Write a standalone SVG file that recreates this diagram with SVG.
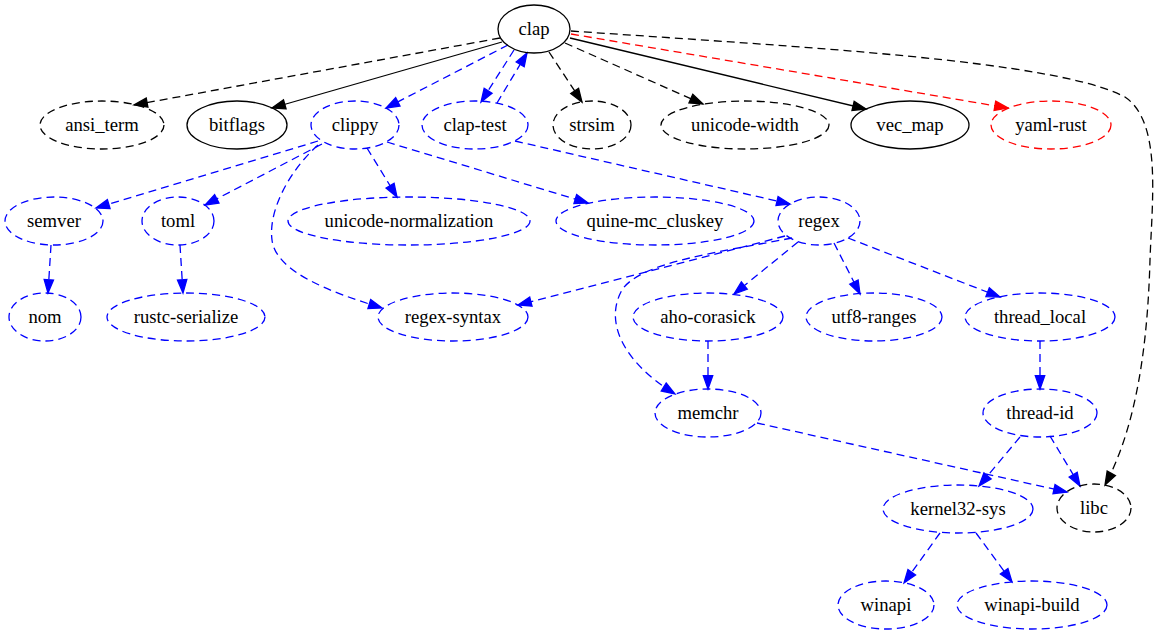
<svg xmlns="http://www.w3.org/2000/svg" width="1157" height="635" viewBox="0 0 1157 635">
<style>
.n ellipse{fill:none;stroke-width:1.3}
.n text{font-family:'Liberation Serif','Times New Roman',serif;font-size:18.67px;text-anchor:middle;fill:#000}
.k{stroke:#000}
.b{stroke:#0000ff}
.r{stroke:#ff0000}
.d{stroke-dasharray:8,5}
#edges path{fill:none;stroke-width:1.3}
#edges .k{marker-end:url(#ak)}
#edges .b{marker-end:url(#ab)}
#edges .r{marker-end:url(#ar)}
</style>
<defs>
<marker id="ak" markerUnits="userSpaceOnUse" viewBox="0 -6 14 12" markerWidth="14" markerHeight="12" refX="13.3" refY="0" orient="auto" overflow="visible"><path d="M0,-4.7 L13.3,0 L0,4.7 Z" fill="#000" stroke="#000" stroke-width="1.3"/></marker>
<marker id="ab" markerUnits="userSpaceOnUse" viewBox="0 -6 14 12" markerWidth="14" markerHeight="12" refX="13.3" refY="0" orient="auto" overflow="visible"><path d="M0,-4.7 L13.3,0 L0,4.7 Z" fill="#0000ff" stroke="#0000ff" stroke-width="1.3"/></marker>
<marker id="ar" markerUnits="userSpaceOnUse" viewBox="0 -6 14 12" markerWidth="14" markerHeight="12" refX="13.3" refY="0" orient="auto" overflow="visible"><path d="M0,-4.7 L13.3,0 L0,4.7 Z" fill="#ff0000" stroke="#ff0000" stroke-width="1.3"/></marker>
</defs>
<rect width="1157" height="635" fill="#fff"/>
<g id="edges">
<path class="k d" d="M500,38 L134,105"/>
<path class="k" d="M502,42 L272,108"/>
<path class="b d" d="M508,45 L386,108"/>
<path class="b d" d="M514,50 L481,102"/>
<path class="b d" d="M497,103 L527,53"/>
<path class="k d" d="M549,52 L582,102"/>
<path class="k d" d="M565,43 L703,104"/>
<path class="k" d="M570,38 L866,109"/>
<path class="r d" d="M571,34 L1008,108"/>
<path class="k d" d="M571,31 C800,47 1055,60 1125,97 C1162,122 1152,200 1150,260 C1148,330 1140,420 1105,485"/>
<path class="b d" d="M318,141 L96,208"/>
<path class="b d" d="M322,144 L205,205"/>
<path class="b d" d="M318,145 C290,170 268,210 272,240 C276,272 330,292 382,308"/>
<path class="b d" d="M367,148 L397,197"/>
<path class="b d" d="M387,142 L588,203"/>
<path class="b d" d="M515,141 L790,204"/>
<path class="b d" d="M51,245 L48,293"/>
<path class="b d" d="M180,245 L183,293"/>
<path class="b d" d="M785,236 L518,305"/>
<path class="b d" d="M792,238 C720,252 640,262 622,290 C605,320 620,360 675,394"/>
<path class="b d" d="M798,242 L734,294"/>
<path class="b d" d="M834,243 L860,294"/>
<path class="b d" d="M848,238 L1000,297"/>
<path class="b d" d="M708,341 L708,389"/>
<path class="b d" d="M1040,341 L1040,389"/>
<path class="b d" d="M757,423 L1067,492"/>
<path class="b d" d="M1020,437 L979,486"/>
<path class="b d" d="M1050,436 L1080,486"/>
<path class="b d" d="M940,533 L904,583"/>
<path class="b d" d="M976,533 L1012,582"/>
</g>
<g id="clap" class="n"><ellipse class="k" cx="534" cy="29" rx="36" ry="24"/><text x="534" y="35">clap</text></g>
<g id="ansi_term" class="n"><ellipse class="k d" cx="102" cy="125" rx="62" ry="24"/><text x="102" y="131">ansi_term</text></g>
<g id="bitflags" class="n"><ellipse class="k" cx="237" cy="125" rx="50" ry="24"/><text x="237" y="131">bitflags</text></g>
<g id="clippy" class="n"><ellipse class="b d" cx="355" cy="125" rx="44" ry="24"/><text x="355" y="131">clippy</text></g>
<g id="clap-test" class="n"><ellipse class="b d" cx="475" cy="125" rx="53" ry="24"/><text x="475" y="131">clap-test</text></g>
<g id="strsim" class="n"><ellipse class="k d" cx="592" cy="125" rx="39" ry="24"/><text x="592" y="131">strsim</text></g>
<g id="unicode-width" class="n"><ellipse class="k d" cx="745" cy="125" rx="84" ry="24"/><text x="745" y="131">unicode-width</text></g>
<g id="vec_map" class="n"><ellipse class="k" cx="910" cy="125" rx="59" ry="24"/><text x="910" y="131">vec_map</text></g>
<g id="yaml-rust" class="n"><ellipse class="r d" cx="1051" cy="125" rx="60" ry="24"/><text x="1051" y="131">yaml-rust</text></g>
<g id="semver" class="n"><ellipse class="b d" cx="54" cy="221" rx="49" ry="24"/><text x="54" y="227">semver</text></g>
<g id="toml" class="n"><ellipse class="b d" cx="178" cy="221" rx="36" ry="24"/><text x="178" y="227">toml</text></g>
<g id="unicode-normalization" class="n"><ellipse class="b d" cx="409" cy="221" rx="121" ry="24"/><text x="409" y="227">unicode-normalization</text></g>
<g id="quine-mc_cluskey" class="n"><ellipse class="b d" cx="655" cy="221" rx="99" ry="24"/><text x="655" y="227">quine-mc_cluskey</text></g>
<g id="regex" class="n"><ellipse class="b d" cx="819" cy="221" rx="41" ry="24"/><text x="819" y="227">regex</text></g>
<g id="nom" class="n"><ellipse class="b d" cx="45" cy="317" rx="36" ry="24"/><text x="45" y="323">nom</text></g>
<g id="rustc-serialize" class="n"><ellipse class="b d" cx="186" cy="317" rx="79" ry="24"/><text x="186" y="323">rustc-serialize</text></g>
<g id="regex-syntax" class="n"><ellipse class="b d" cx="453" cy="317" rx="75" ry="24"/><text x="453" y="323">regex-syntax</text></g>
<g id="aho-corasick" class="n"><ellipse class="b d" cx="708" cy="317" rx="75" ry="24"/><text x="708" y="323">aho-corasick</text></g>
<g id="utf8-ranges" class="n"><ellipse class="b d" cx="874" cy="317" rx="68" ry="24"/><text x="874" y="323">utf8-ranges</text></g>
<g id="thread_local" class="n"><ellipse class="b d" cx="1040" cy="317" rx="75" ry="24"/><text x="1040" y="323">thread_local</text></g>
<g id="memchr" class="n"><ellipse class="b d" cx="708" cy="413" rx="53" ry="24"/><text x="708" y="419">memchr</text></g>
<g id="thread-id" class="n"><ellipse class="b d" cx="1040" cy="413" rx="57" ry="24"/><text x="1040" y="419">thread-id</text></g>
<g id="kernel32-sys" class="n"><ellipse class="b d" cx="958" cy="509" rx="75" ry="24"/><text x="958" y="515">kernel32-sys</text></g>
<g id="libc" class="n"><ellipse class="k d" cx="1094" cy="508" rx="37" ry="24"/><text x="1094" y="514">libc</text></g>
<g id="winapi" class="n"><ellipse class="b d" cx="886" cy="605" rx="48" ry="24"/><text x="886" y="611">winapi</text></g>
<g id="winapi-build" class="n"><ellipse class="b d" cx="1032" cy="605" rx="75" ry="24"/><text x="1032" y="611">winapi-build</text></g>
</svg>
